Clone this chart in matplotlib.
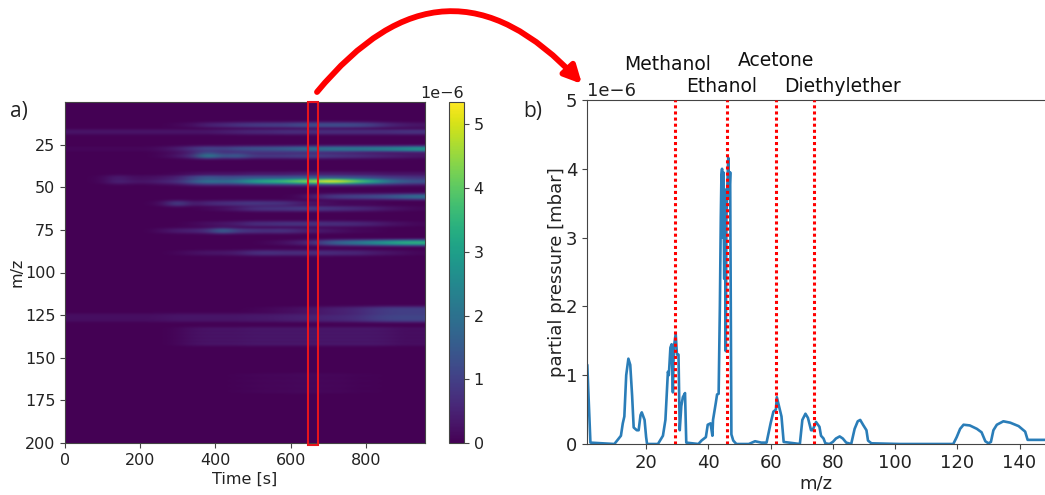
import numpy as np
import matplotlib
matplotlib.use("Agg")
import matplotlib.pyplot as plt
from matplotlib.patches import FancyArrowPatch, Rectangle

# ---- heat map: values (1e-6 mbar) at 40 s steps, one list per m/z row
mz_13 = [0,0,0,0,0,0,0,.1,.2,.5,.6,.8,.9,1,1,1.2,1.3,1.3,1.3,1.2,1,.6,.4,.3]
mz_17 = [.3,.3,.3,.3,.3,.3,.3,.3,.3,.3,.4,.5,.6,.6,.7,.7,.7,.7,.7,.7,.7,.7,.8,.8]
mz_27 = [.1,.1,.1,.1,.1,.1,.2,.4,.8,1.2,1,1.3,1.4,1.5,1.6,1.8,2,2.1,2.2,2.2,2.3,2.4,2.6,2.9]
mz_29 = [0,0,0,0,0,0,.1,.2,.5,1.3,.7,.8,.8,.8,.8,.8,.8,.7,.7,.6,.5,.5,.4,.4]
mz_31 = [0,0,0,0,0,0,.1,.3,.7,2.6,1.2,1.7,.9,.9,.9,1,1,.9,.8,.7,.6,.5,.4,.3]
mz_42 = [0,0,0,0,0,0,0,.1,.2,.3,.3,.3,.4,.4,.4,.5,.5,.5,.5,.4,.4,.3,.3,.3]
mz_44 = [0,0,.1,.5,.2,.2,.3,.5,1.1,1.6,1.3,1.4,1.5,1.5,1.5,1.6,1.6,1.6,1.5,1.4,1.2,1,.9,.8]
mz_46 = [0,0,.1,.6,.3,.3,.5,.7,1.5,2.2,1.9,2.2,3,3.4,3.6,4.2,4.6,5.35,5,4,3.2,2.2,1.6,1.4]
mz_47 = [0,0,0,.2,.1,.1,.2,.3,.7,1,.9,1,1.2,1.3,1.4,1.5,1.6,1.7,1.6,1.4,1.1,.9,.7,.6]
mz_55 = [0,0,0,0,0,0,0,0,0,0,0,0,0,0,0,.1,.4,.8,1,1.1,1.2,1.4,1.7,2]
mz_59 = [0,0,0,0,0,0,.2,1.2,.3,.6,.7,.8,.9,.8,.8,.5,.3,.2,.1,.1,.1,0,0,0]
mz_62 = [0,0,0,0,0,0,0,0,0,.1,.2,.4,.7,.8,.8,.9,.9,.8,.7,.6,.5,.3,.2,.1]
mz_71 = [0,0,0,0,0,0,0,0,.1,.2,.3,.4,.7,.7,.8,.8,.8,.7,.7,.6,.5,.3,.2,.1]
mz_75 = [0,0,0,0,0,0,.2,.4,.5,.7,1.9,.9,.8,.7,.8,.6,.4,.3,.2,.1,.1,0,0,0]
mz_82 = [0,0,0,0,0,0,0,0,0,0,0,0,0,.1,.2,.4,.7,1.4,1.9,2.2,2.6,3,3.4,3.5]
mz_88 = [0,0,0,0,0,0,0,.1,.2,.3,.3,.4,.7,.8,.7,.7,.7,.7,.6,.6,.4,.3,.2,.1]
mz_120 = [0,0,0,0,0,0,0,0,0,0,0,0,.05,.1,.15,.2,.3,.4,.5,.6,.8,.95,1,1]
mz_125 = [.2,.2,.2,.2,.2,.2,.25,.3,.3,.3,.3,.3,.35,.35,.4,.45,.5,.55,.6,.7,.9,1.05,1.1,1.1]
mz_135 = [0,0,0,0,0,0,0,.1,.25,.3,.3,.3,.35,.35,.35,.35,.35,.35,.35,.35,.35,.3,.2,.2]
mz_165 = [0,0,0,0,0,0,0,0,0,0,0,.05,.08,.1,.1,.12,.12,.1,.1,.05,.05,0,0,0]

# m/z row -> time profile
heat_rows = [(13, mz_13), (17, mz_17), (27, mz_27), (29, mz_29), (31, mz_31), (42, mz_42),
             (44, mz_44), (45, mz_44), (46, mz_46), (47, mz_47), (55, mz_55), (59, mz_59),
             (62, mz_62), (71, mz_71), (75, mz_75), (82, mz_82), (88, mz_88),
             (121, mz_120), (122, mz_120), (123, mz_120), (124, mz_120),
             (125, mz_125), (126, mz_125), (127, mz_125),
             (133, mz_135), (135, mz_135), (137, mz_135), (139, mz_135), (141, mz_135),
             (160, mz_165), (163, mz_165), (166, mz_165), (169, mz_165)]

# ---- spectrum
spec_mz = [1, 1.1, 1.4, 2.1, 9.8, 11.9, 12.5, 13, 13.6, 14.3, 14.9, 15.5, 16, 17, 17.6, 18.2, 18.6, 19.5, 20, 20.3,
           23.8, 25.4, 26.2, 27, 27.3, 27.8, 28.2, 28.6, 28.9, 29.5, 29.9, 30.4, 30.8, 31.3, 31.8, 32.5, 32.9,
           36.8, 37.8, 39.2, 39.8, 40.7, 41.3, 41.5, 42.4, 42.8, 43.3, 43.7, 44, 44.2, 44.4, 44.6, 44.8, 45.1, 45.3, 45.6, 45.8, 46.2, 46.4, 46.7, 47, 47.4, 48, 49,
           53, 55, 57, 58.7, 60, 60.9, 61.7, 62, 62.7, 63.5, 64.2, 69.4, 70.2, 71.2, 72, 73, 73.5, 74.6, 75.7, 76.2, 77, 77.6,
           78.9, 80, 81, 82.2, 83.2, 84.3, 85.9, 87, 88, 88.8, 89.7, 90.8, 91.3, 92.4, 101.5, 118.7, 119.8, 120.9, 122, 124, 126.3, 127.8,
           129, 130, 130.8, 131.6, 132.7, 134.8, 137, 139.7, 141.8, 142.6, 148.3]
spec_p = [1.15, 1.15, .8, .02, 0, .12, .3, .4, 1.0, 1.24, 1.15, .7, .24, .2, .2, .42, .46, .35, .1, 0,
          0, .12, .35, 1.05, 1.0, 1.4, 1.45, .75, 1.4, 1.6, 1.3, 1.3, .2, .55, .68, .74, .02,
          0, .05, .1, .28, .3, .12, .35, .6, .72, .73, 2.0, 3.3, 3.9, 4.0, 3.0, 3.95, 2.4, 3.7, 1.35, 3.3, 3.9, 4.16, 3.6, 3.95, .14, .05, 0,
          0, .04, .02, .02, .3, .47, .5, .68, .55, .4, .03, 0, .35, .44, .38, .2, .2, .32, .25, .12, .08, .01,
          0, .03, .08, .11, .08, .02, 0, .22, .33, .35, .28, .2, .05, .01, 0, 0, .1, .22, .28, .27, .22, .17,
          .04, .01, .03, .2, .28, .33, .31, .26, .18, .06, .06]

marker_mz = [29.4, 46.1, 61.6, 73.9]
marker_names = ["Methanol", "Ethanol", "Acetone", "Diethylether"]
time_ticks = [0, 200, 400, 600, 800]
mz_ticks = [25, 50, 75, 100, 125, 150, 175, 200]
W, H = 1045, 495


def box(l, t, r, b):
    return [l / W, 1 - b / H, (r - l) / W, (b - t) / H]


def fx(x):
    return x / W


def fy(y):
    return 1 - y / H


fig = plt.figure(figsize=(W / 100, H / 100), dpi=100)
spine_c = "#444444"
matrix = np.zeros((200, len(mz_13)))
for row, values in heat_rows:
    matrix[row] = values
# each band is about two m/z wide: neighbouring rows take part of its level
spread = matrix.copy()
for row, values in heat_rows:
    for side, part in ((-1, .75), (1, .75), (-2, .2), (2, .2)):
        spread[row + side] = np.maximum(spread[row + side], np.array(values) * part)

ax = fig.add_axes(box(65, 102, 425, 443))
im = ax.imshow(spread * 1e-6, cmap="viridis", aspect="auto", extent=(0, 957, 200, 0),
               vmin=0, vmax=5.35e-6, interpolation="bicubic")
ax.set_xticks(time_ticks)
ax.set_yticks(mz_ticks)
ax.tick_params(labelsize=11.5, color=spine_c, labelcolor="#222222")
ax.set_xlabel("Time [s]", fontsize=11.5, color="#222222", labelpad=3)
ax.set_ylabel("m/z", fontsize=11.5, color="#222222", labelpad=0)
ax.add_patch(Rectangle((646, 0), 27, 201, fill=False, edgecolor="#e8141c", lw=1.5, clip_on=False, zorder=5))
for s in ax.spines.values():
    s.set_color(spine_c)

cax = fig.add_axes(box(449, 102, 464, 443))
cb = fig.colorbar(im, cax=cax)
cb.set_ticks(np.array([0, 1, 2, 3, 4, 5]) * 1e-6)
cb.ax.tick_params(labelsize=11.5, color=spine_c, labelcolor="#222222")
cb.ax.yaxis.get_offset_text().set_fontsize(11.5)
cb.ax.yaxis.get_offset_text().set_color("#222222")
cb.outline.set_edgecolor(spine_c)

ax2 = fig.add_axes(box(587, 100, 1046, 444))
ax2.plot(spec_mz, np.array(spec_p) * 1e-6, color="#2a7db8", lw=1.9)
for m in marker_mz:
    ax2.axvline(m, color="#ff0000", lw=2.2, ls=(0, (1, 1)), zorder=4)
ax2.set_xlim(1, 148.5)
ax2.set_ylim(0, 5e-6)
ax2.set_xticks([20, 40, 60, 80, 100, 120, 140])
ax2.tick_params(labelsize=13, color=spine_c, labelcolor="#222222")
ax2.set_xlabel("m/z", fontsize=13, color="#222222")
ax2.xaxis.set_label_coords((816 - 587) / 459, -0.09)
ax2.set_ylabel("partial pressure [mbar]", fontsize=13, color="#222222", labelpad=0)
ax2.yaxis.get_offset_text().set_fontsize(13)
ax2.yaxis.get_offset_text().set_color("#222222")
for s in ax2.spines.values():
    s.set_color(spine_c)

label_pos = [(668, 64), (722, 86), (776, 61), (843, 86)]
for name, (x, y) in zip(marker_names, label_pos):
    fig.text(fx(x), fy(y), name, fontsize=13.5, ha="center", va="center", color="#111111")
fig.text(fx(10), fy(111), "a)", fontsize=15, family="Open Sans", va="center", color="#222222")
fig.text(fx(523), fy(111), "b)", fontsize=15, family="Open Sans", va="center", color="#222222")

arrow = FancyArrowPatch((fx(317), fy(92)), (fx(582), fy(84)), transform=fig.transFigure,
                        connectionstyle="arc3,rad=-0.57", arrowstyle="-|>", mutation_scale=26,
                        color="#ff0000", lw=4.2, shrinkA=0, shrinkB=0)
fig.add_artist(arrow)
fig.savefig("out.png", dpi=100)
